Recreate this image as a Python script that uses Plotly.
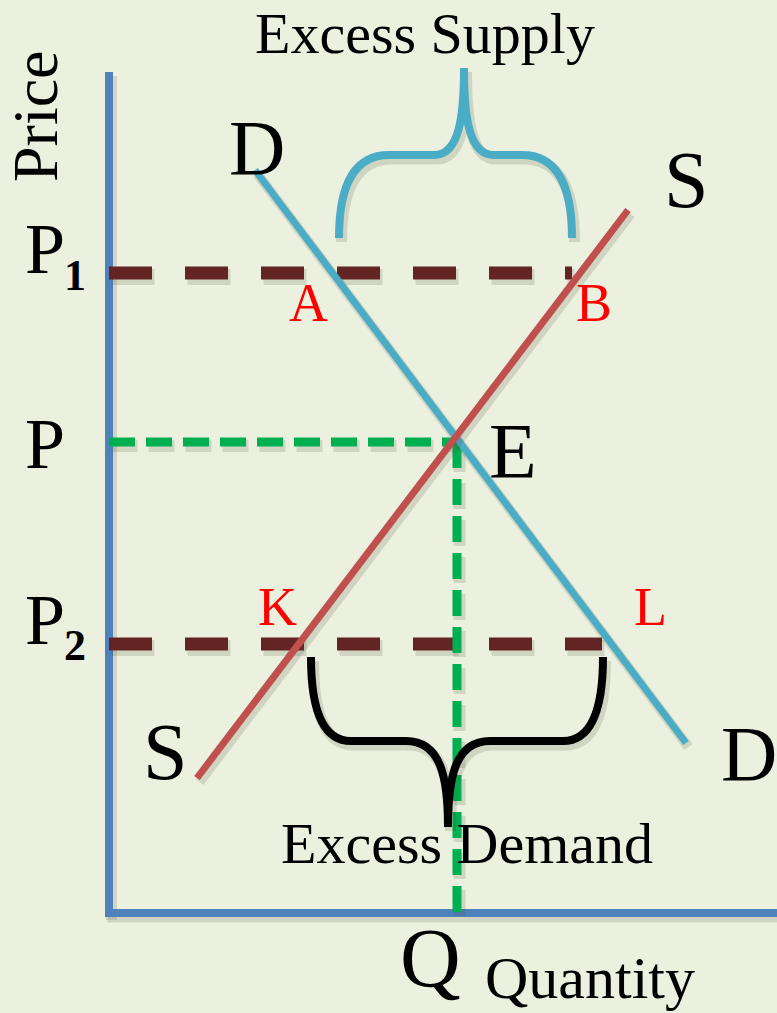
import plotly.graph_objects as go

# ---------------- data (quantity / price units) ----------------
demand_q = [1.46, 5.77]
demand_p = [7.43, 1.70]
supply_q = [0.88, 5.19]
supply_p = [1.35, 7.03]

price_levels = {"P1": 6.40, "P": 4.71, "P2": 2.69}
q_equilibrium = 3.48
p1_line_end_q = 4.63   # dashed P1 line stops at B
p2_line_end_q = 4.93   # dashed P2 line stops at L

price_axis_top = 8.41
quantity_axis_end = 6.68

# ---------------- styles ----------------
BG = "#EBF1DE"
AXIS = "#4F81BD"
DEM = "#4BACC6"
SUP = "#C0504D"
BROWN = "#632523"
GREEN = "#00B050"
SHADOW = "rgba(70,70,50,0.16)"
FONT = "Liberation Serif"
SDX, SDY = 0.025, -0.04

fig = go.Figure()


def line(xs, ys, color, width, dash="solid", shadow=True):
    if shadow:
        fig.add_trace(go.Scatter(x=[v + SDX for v in xs], y=[v + SDY for v in ys],
                                 mode="lines", hoverinfo="skip",
                                 line=dict(color=SHADOW, width=width + 3, dash=dash)))
    fig.add_trace(go.Scatter(x=xs, y=ys, mode="lines", hoverinfo="skip",
                             line=dict(color=color, width=width, dash=dash)))


# axes
line([0, 0], [-0.03, price_axis_top], AXIS, 8)
line([-0.04, quantity_axis_end + 0.2], [0, 0], AXIS, 8)

# price-level dashed lines
line([0, p1_line_end_q], [price_levels["P1"]] * 2, BROWN, 13, dash="43px,33px")
line([0, p2_line_end_q], [price_levels["P2"]] * 2, BROWN, 13, dash="43px,33px")

# equilibrium guides
line([0, q_equilibrium], [price_levels["P"]] * 2, GREEN, 9, dash="26px,11px")
line([q_equilibrium, q_equilibrium], [price_levels["P"], -0.05], GREEN, 9, dash="26px,11px")

# demand & supply curves
line(demand_q, demand_p, DEM, 7)
line(supply_q, supply_p, SUP, 7)


# curly braces
def brace_path(x0, x1, xt, ye, ym, yt, re, rt):
    c = ym + (yt - ym) * 0.45
    return (f"M {x0},{ye} Q {x0},{ym} {x0 + re},{ym} "
            f"L {xt - rt},{ym} C {xt - rt * 0.15},{ym} {xt},{c} {xt},{yt} "
            f"C {xt},{c} {xt + rt * 0.15},{ym} {xt + rt},{ym} "
            f"L {x1 - re},{ym} Q {x1},{ym} {x1},{ye}")


def add_brace(color, *args):
    x0, x1, xt, ye, ym, yt, re, rt = args
    fig.add_shape(type="path", xref="x", yref="y",
                  path=brace_path(x0 + SDX, x1 + SDX, xt + SDX, ye + SDY, ym + SDY, yt + SDY, re, rt),
                  line=dict(color=SHADOW, width=11))
    fig.add_shape(type="path", xref="x", yref="y",
                  path=brace_path(*args), line=dict(color=color, width=8))


add_brace(DEM, 2.30, 4.63, 3.55, 6.75, 7.58, 8.45, 0.50, 0.30)
add_brace("#000000", 2.02, 4.94, 3.39, 2.56, 1.72, 0.86, 0.40, 0.42)


# labels
def label(text, x, y, size, color="black", angle=0):
    fig.add_annotation(x=x, y=y, xref="x", yref="y", text=text, showarrow=False,
                       xanchor="center", yanchor="middle", textangle=angle,
                       font=dict(family=FONT, size=size, color=color))


label("Excess Supply", 3.16, 8.795, 58)
label("Excess Demand", 3.58, 0.70, 58)
label("Price", -0.735, 7.965, 64, angle=-90)
label("Quantity", 4.81, -0.65, 60)
label("Q", q_equilibrium - 0.27, -0.45, 84)

label("D", 1.48, 7.66, 78)
label("D", 6.40, 1.60, 78)
label("S", 5.77, 7.33, 80)
label("S", 0.56, 1.61, 80)
label("E", 4.04, 4.63, 78)

label("P", -0.64, price_levels["P1"] + 0.24, 72)
label("<b>1</b>", -0.34, price_levels["P1"] - 0.02, 44)
label("P", -0.64, price_levels["P"] - 0.02, 72)
label("P", -0.64, price_levels["P2"] + 0.24, 72)
label("<b>2</b>", -0.34, price_levels["P2"] - 0.01, 44)

label("A", 1.99, 6.10, 54, color="red")
label("B", 4.85, 6.10, 54, color="red")
label("K", 1.68, 3.06, 54, color="red")
label("L", 5.41, 3.06, 54, color="red")

fig.update_layout(
    width=777, height=1013, margin=dict(l=0, r=0, t=0, b=0),
    paper_bgcolor=BG, plot_bgcolor=BG, showlegend=False,
    xaxis=dict(range=[-1.09, 6.68], visible=False, fixedrange=True),
    yaxis=dict(range=[-1.00, 9.13], visible=False, fixedrange=True),
)

fig.write_html(
    "out.html",
    config={"displayModeBar": False},
    post_script=(
        "document.body.style.margin='0';"
        "document.body.style.padding='0';"
        "document.body.style.overflow='hidden';"
        "document.body.style.background='" + BG + "';"
    ),
)
